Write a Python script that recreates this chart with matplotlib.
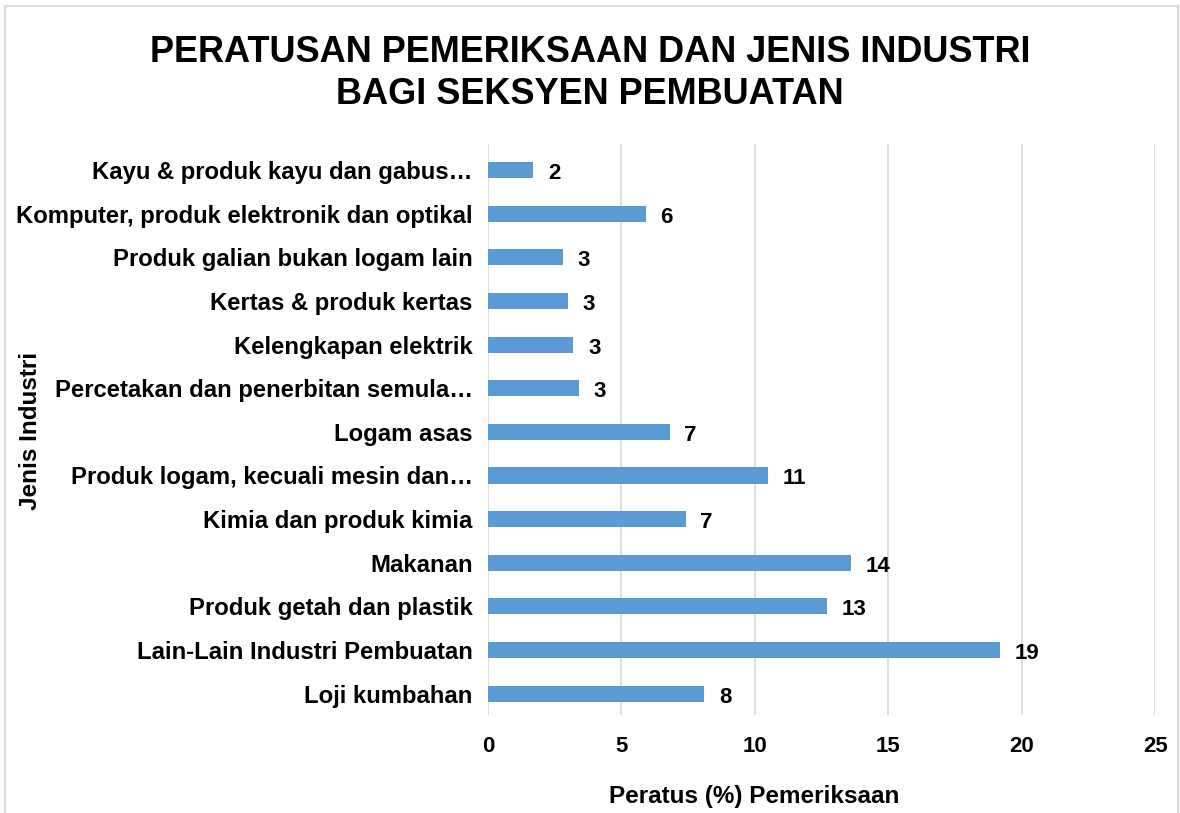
import matplotlib.pyplot as plt
from matplotlib.patches import Rectangle

plt.rcParams['font.family'] = ['Liberation Sans', 'DejaVu Sans']

# Data (atas ke bawah dalam carta)
kategori = [
    "Kayu & produk kayu dan gabus…",
    "Komputer, produk elektronik dan optikal",
    "Produk galian bukan logam lain",
    "Kertas & produk kertas",
    "Kelengkapan elektrik",
    "Percetakan dan penerbitan semula…",
    "Logam asas",
    "Produk logam, kecuali mesin dan…",
    "Kimia dan produk kimia",
    "Makanan",
    "Produk getah dan plastik",
    "Lain-Lain Industri Pembuatan",
    "Loji kumbahan",
]
peratus = [1.7, 5.9, 2.8, 3.0, 3.2, 3.4, 6.8, 10.5, 7.4, 13.6, 12.7, 19.2, 8.1]
label_nilai = [2, 6, 3, 3, 3, 3, 7, 11, 7, 14, 13, 19, 8]

# susun dari bawah ke atas
kategori_r = kategori[::-1]
peratus_r = peratus[::-1]
label_r = label_nilai[::-1]

fig = plt.figure(figsize=(11.8, 8.13), dpi=100)
ax = fig.add_axes([0.4136, 0.12, 0.5654, 0.703])

y = range(len(kategori_r))
ax.barh(y, peratus_r, height=0.37, color="#5B9BD5", zorder=3)
for yi, v, lab in zip(y, peratus_r, label_r):
    ax.text(v + 0.55, yi - 0.08, str(lab), va="center", ha="left",
            fontsize=16, fontweight="bold", color="black")

ax.set_xlim(0, 25)
ax.set_ylim(-0.5, 12.6)
ax.set_xticks([0, 5, 10, 15, 20, 25])
ax.set_yticks(list(y))
ax.set_yticklabels(kategori_r, fontsize=17.2, fontweight="bold")
ax.tick_params(axis="x", labelsize=16, pad=15, length=0)
ax.tick_params(axis="y", length=0, pad=11)
for lbl in ax.get_xticklabels():
    lbl.set_fontweight("bold")
ax.grid(axis="x", color="#d9d9d9", linewidth=1.2, zorder=0)
for s in ax.spines.values():
    s.set_visible(False)

fig.text(0.5, 0.91, "PERATUSAN PEMERIKSAAN DAN JENIS INDUSTRI\nBAGI SEKSYEN PEMBUATAN",
         ha="center", va="center", fontsize=26, fontweight="bold", linespacing=1.25)
fig.text(0.639, 0.02, "Peratus (%) Pemeriksaan", ha="center", va="center",
         fontsize=17.5, fontweight="bold")
fig.text(0.026, 0.47, "Jenis Industri", ha="center", va="center", rotation=90,
         fontsize=17.5, fontweight="bold")

fig.patches.append(Rectangle((0.004, -0.01), 0.994, 1.003, transform=fig.transFigure,
                             fill=False, edgecolor="#d9d9d9", linewidth=1.5))

plt.savefig("out.png", dpi=100)
plt.close()
